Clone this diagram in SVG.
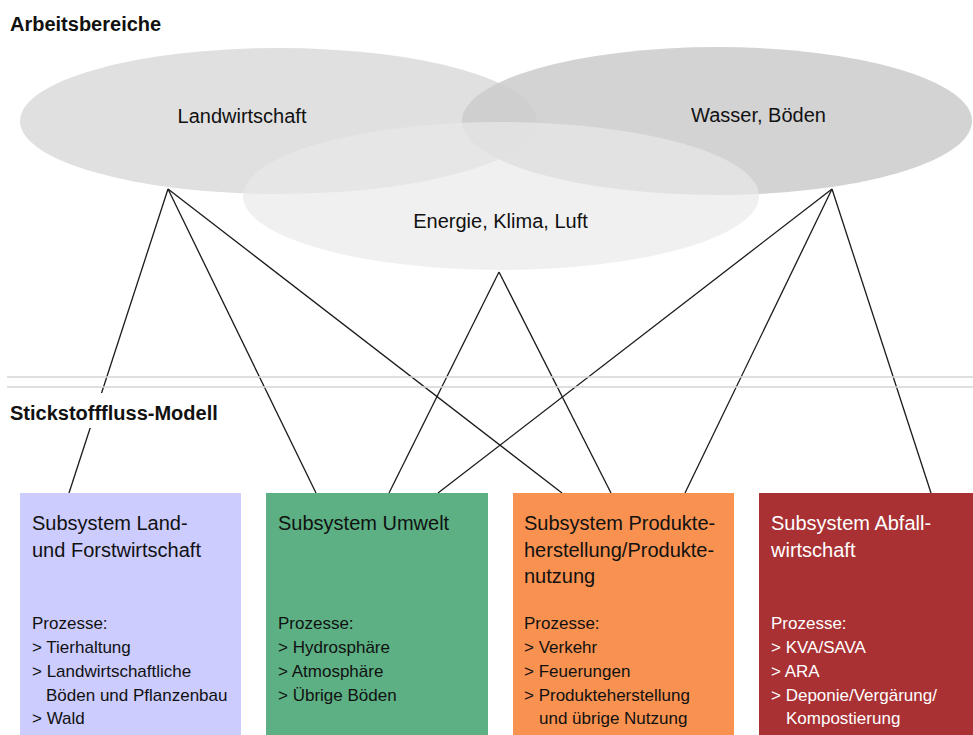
<svg xmlns="http://www.w3.org/2000/svg" width="973" height="735" viewBox="0 0 973 735">
<style>
.hdr{font-family:"Liberation Sans",Arial,sans-serif;font-weight:bold;font-size:20px;fill:#111}
.lbl{font-family:"Liberation Sans",Arial,sans-serif;font-size:20px;fill:#111}
.ttl{font-family:"Liberation Sans",Arial,sans-serif;font-size:20px;fill:#111}
.prc{font-family:"Liberation Sans",Arial,sans-serif;font-size:17px;fill:#111}
.wt{fill:#ffffff}
.conn line{stroke:#1a1a1a;stroke-width:1.3;fill:none}
.sep{stroke:#d4d4d4;stroke-width:1.6}
</style>
<rect x="0" y="0" width="973" height="735" fill="#ffffff"/>
<text class="hdr" x="10" y="31">Arbeitsbereiche</text>
<g id="node-landwirtschaft">
<ellipse cx="278.5" cy="121" rx="258.5" ry="73" fill="#e0e0e0"/>
</g>
<g id="node-wasser">
<ellipse cx="717" cy="121" rx="255" ry="74" fill="#cccccc" fill-opacity="0.87"/>
</g>
<g id="node-energie">
<ellipse cx="501" cy="196" rx="258" ry="74" fill="#e9e9e9" fill-opacity="0.68"/>
</g>
<text class="lbl" x="242" y="123" text-anchor="middle">Landwirtschaft</text>
<text class="lbl" x="758.5" y="122" text-anchor="middle">Wasser, Böden</text>
<text class="lbl" x="500.5" y="228" text-anchor="middle">Energie, Klima, Luft</text>
<g id="connectors" class="conn">
<line x1="168" y1="189" x2="69" y2="493"/>
<line x1="168" y1="189" x2="316" y2="493"/>
<line x1="168" y1="189" x2="562" y2="493"/>
<line x1="499" y1="272" x2="389" y2="493"/>
<line x1="499" y1="272" x2="611" y2="493"/>
<line x1="832" y1="189" x2="438" y2="493"/>
<line x1="832" y1="189" x2="685" y2="493"/>
<line x1="832" y1="189" x2="931" y2="493"/>
</g>
<line class="sep" x1="7" y1="377" x2="973" y2="377"/>
<line class="sep" x1="7" y1="387" x2="973" y2="387"/>
<rect x="8" y="393" width="212" height="35" fill="#ffffff"/>
<text class="hdr" x="10" y="420">Stickstofffluss-Modell</text>
<g id="node-land-forst">
<rect x="20" y="493" width="221" height="250" fill="#ccccff"/>
<text class="ttl" x="32" y="530">Subsystem Land-</text>
<text class="ttl" x="32" y="557">und Forstwirtschaft</text>
<text class="prc" x="32" y="629">Prozesse:</text>
<text class="prc" x="32" y="653">&gt; Tierhaltung</text>
<text class="prc" x="32" y="677">&gt; Landwirtschaftliche</text>
<text class="prc" x="46" y="700.5">Böden und Pflanzenbau</text>
<text class="prc" x="32" y="724">&gt; Wald</text>
</g>
<g id="node-umwelt">
<rect x="266" y="493" width="222" height="250" fill="#5cb084"/>
<text class="ttl" x="278" y="530">Subsystem Umwelt</text>
<text class="prc" x="278" y="629">Prozesse:</text>
<text class="prc" x="278" y="653">&gt; Hydrosphäre</text>
<text class="prc" x="278" y="677">&gt; Atmosphäre</text>
<text class="prc" x="278" y="700.5">&gt; Übrige Böden</text>
</g>
<g id="node-produkte">
<rect x="513" y="493" width="221" height="250" fill="#f99150"/>
<text class="ttl" x="524" y="530">Subsystem Produkte-</text>
<text class="ttl" x="524" y="557">herstellung/Produkte-</text>
<text class="ttl" x="524" y="583">nutzung</text>
<text class="prc" x="524" y="629">Prozesse:</text>
<text class="prc" x="524" y="653">&gt; Verkehr</text>
<text class="prc" x="524" y="677">&gt; Feuerungen</text>
<text class="prc" x="524" y="700.5">&gt; Produkteherstellung</text>
<text class="prc" x="539" y="724">und übrige Nutzung</text>
</g>
<g id="node-abfall">
<rect x="759" y="493" width="222" height="250" fill="#a93033"/>
<text class="ttl wt" x="771" y="530">Subsystem Abfall-</text>
<text class="ttl wt" x="771" y="557">wirtschaft</text>
<text class="prc wt" x="771" y="629">Prozesse:</text>
<text class="prc wt" x="771" y="653">&gt; KVA/SAVA</text>
<text class="prc wt" x="771" y="677">&gt; ARA</text>
<text class="prc wt" x="771" y="700.5">&gt; Deponie/Vergärung/</text>
<text class="prc wt" x="786" y="724">Kompostierung</text>
</g>
</svg>
